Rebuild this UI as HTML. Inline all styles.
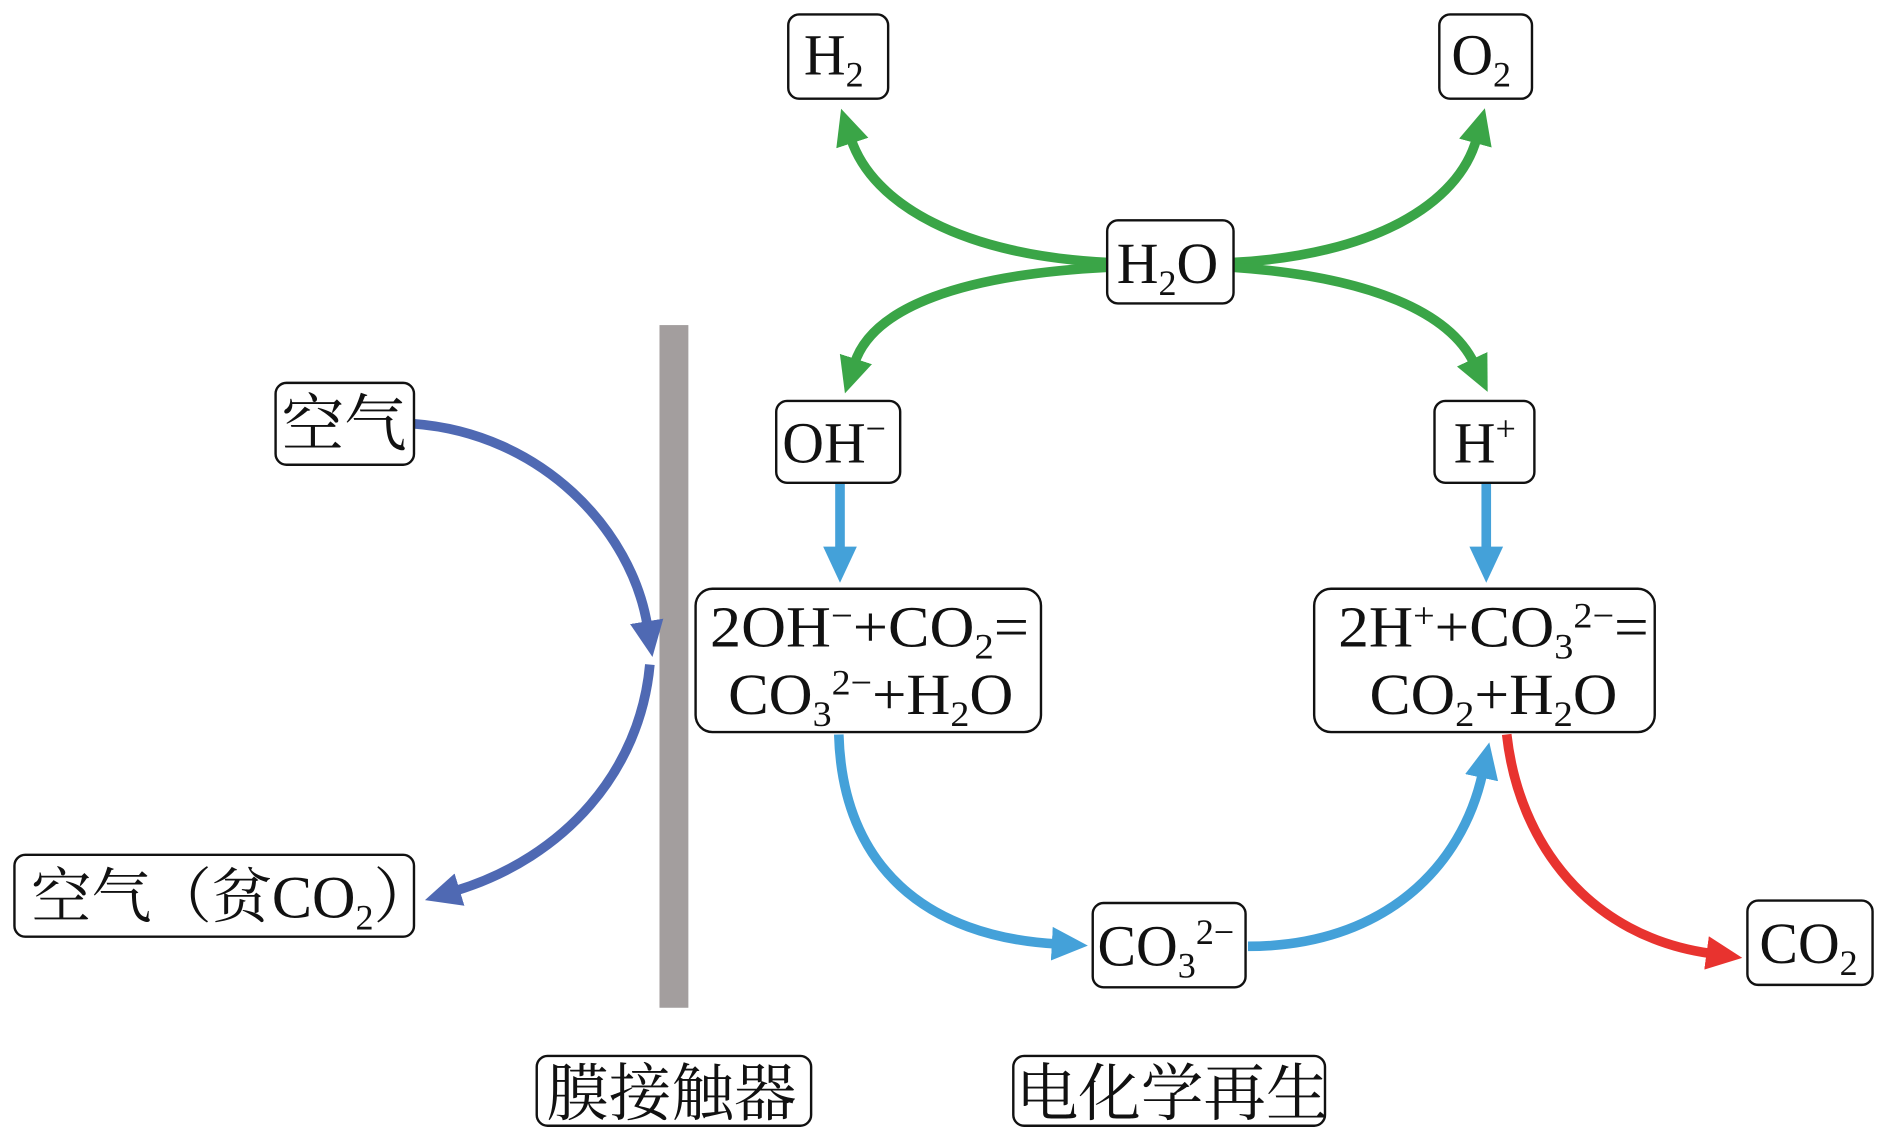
<!DOCTYPE html>
<html><head><meta charset="utf-8"><style>
html,body{margin:0;padding:0;background:#fff;}
svg{display:block;}
text{font-family:"Liberation Serif","Noto Serif CJK SC",serif;fill:#111;}
</style></head><body>
<svg width="1887" height="1139" viewBox="0 0 1568 946" preserveAspectRatio="none" xmlns="http://www.w3.org/2000/svg">
<defs>
<marker id="g" markerUnits="userSpaceOnUse" markerWidth="40" markerHeight="40" refX="4" refY="16" orient="auto"><path d="M0,2 L30,16 L0,30 Z" fill="#3aa547"/></marker>
<marker id="b" markerUnits="userSpaceOnUse" markerWidth="40" markerHeight="40" refX="4" refY="16" orient="auto"><path d="M0,2 L30,16 L0,30 Z" fill="#44a1d9"/></marker>
<marker id="r" markerUnits="userSpaceOnUse" markerWidth="40" markerHeight="40" refX="4" refY="16" orient="auto"><path d="M0,2 L30,16 L0,30 Z" fill="#e8332f"/></marker>
<marker id="d" markerUnits="userSpaceOnUse" markerWidth="40" markerHeight="40" refX="4" refY="16" orient="auto"><path d="M0,2 L30,16 L0,30 Z" fill="#4f69b3"/></marker>
</defs>
<rect x="548" y="270" width="24" height="567" fill="#a39e9e"/>
<g fill="none" stroke-width="8">
<path d="M920,218 C800,212 725,170 707,115" stroke="#3aa547" marker-end="url(#g)"/>
<path d="M1025,218 C1140,212 1212,170 1227,115" stroke="#3aa547" marker-end="url(#g)"/>
<path d="M920,222 C800,228 725,255 710,302" stroke="#3aa547" marker-end="url(#g)"/>
<path d="M1025,222 C1140,230 1205,260 1225,302" stroke="#3aa547" marker-end="url(#g)"/>
<path d="M698,402 L698,458" stroke="#44a1d9" marker-end="url(#b)"/>
<path d="M1235,402 L1235,458" stroke="#44a1d9" marker-end="url(#b)"/>
<path d="M697,610 C700,720 770,778 878,784" stroke="#44a1d9" marker-end="url(#b)"/>
<path d="M1037,786 C1150,786 1215,720 1232,642" stroke="#44a1d9" marker-end="url(#b)"/>
<path d="M1252,610 C1262,700 1320,778 1422,792" stroke="#e8332f" marker-end="url(#r)"/>
<path d="M344,352 C450,360 525,440 538,520" stroke="#4f69b3" marker-end="url(#d)"/>
<path d="M540,552 C532,640 470,712 378,740" stroke="#4f69b3" marker-end="url(#d)"/>
</g>
<g fill="#fff" stroke="#111" stroke-width="2">
<rect x="655" y="12" width="83" height="70" rx="9"/>
<rect x="1196" y="12" width="77" height="70" rx="9"/>
<rect x="920" y="183" width="105" height="69" rx="9"/>
<rect x="645" y="333" width="103" height="68" rx="9"/>
<rect x="1192" y="333" width="83" height="68" rx="9"/>
<rect x="578" y="489" width="287" height="119" rx="14"/>
<rect x="1092" y="489" width="283" height="119" rx="14"/>
<rect x="908" y="750" width="127" height="70" rx="9"/>
<rect x="1452" y="748" width="104" height="70" rx="9"/>
<rect x="229" y="318" width="115" height="68" rx="9"/>
<rect x="12" y="710" width="332" height="68" rx="9"/>
<rect x="446" y="877" width="228" height="58" rx="9"/>
<rect x="842" y="877" width="259" height="58" rx="9"/>
</g>
<g font-size="48">
<text x="668" y="62">H<tspan font-size="30" dy="10">2</tspan></text>
<text x="1206" y="62">O<tspan font-size="30" dy="10">2</tspan></text>
<text x="928" y="235">H<tspan font-size="30" dy="10">2</tspan><tspan dy="-10">O</tspan></text>
<text x="650" y="384">OH<tspan font-size="30" dy="-18">−</tspan></text>
<text x="1208" y="384">H<tspan font-size="30" dy="-18">+</tspan></text>
<text x="590" y="537" textLength="265" lengthAdjust="spacingAndGlyphs">2OH<tspan font-size="30" dy="-16">−</tspan><tspan dy="16">+CO</tspan><tspan font-size="30" dy="10">2</tspan><tspan dy="-10">=</tspan></text>
<text x="605" y="593" textLength="237" lengthAdjust="spacingAndGlyphs">CO<tspan font-size="30" dy="10">3</tspan><tspan font-size="30" dy="-26">2−</tspan><tspan dy="16">+H</tspan><tspan font-size="30" dy="10">2</tspan><tspan dy="-10">O</tspan></text>
<text x="1112" y="537" textLength="258" lengthAdjust="spacingAndGlyphs">2H<tspan font-size="30" dy="-16">+</tspan><tspan dy="16">+CO</tspan><tspan font-size="30" dy="10">3</tspan><tspan font-size="30" dy="-26">2−</tspan><tspan dy="16">=</tspan></text>
<text x="1138" y="593" textLength="206" lengthAdjust="spacingAndGlyphs">CO<tspan font-size="30" dy="10">2</tspan><tspan dy="-10">+H</tspan><tspan font-size="30" dy="10">2</tspan><tspan dy="-10">O</tspan></text>
<text x="912" y="802">CO<tspan font-size="30" dy="10">3</tspan><tspan font-size="30" dy="-28">2−</tspan></text>
<text x="1462" y="800">CO<tspan font-size="30" dy="10">2</tspan></text>
<text x="234" y="370" font-size="52">空气</text>
<text x="26" y="762" font-size="50">空气（贫CO<tspan font-size="30" dy="10">2</tspan><tspan dy="-10">）</tspan></text>
<text x="454" y="926" font-size="52">膜接触器</text>
<text x="844" y="926" font-size="52">电化学再生</text>
</g>
</svg>
</body></html>
